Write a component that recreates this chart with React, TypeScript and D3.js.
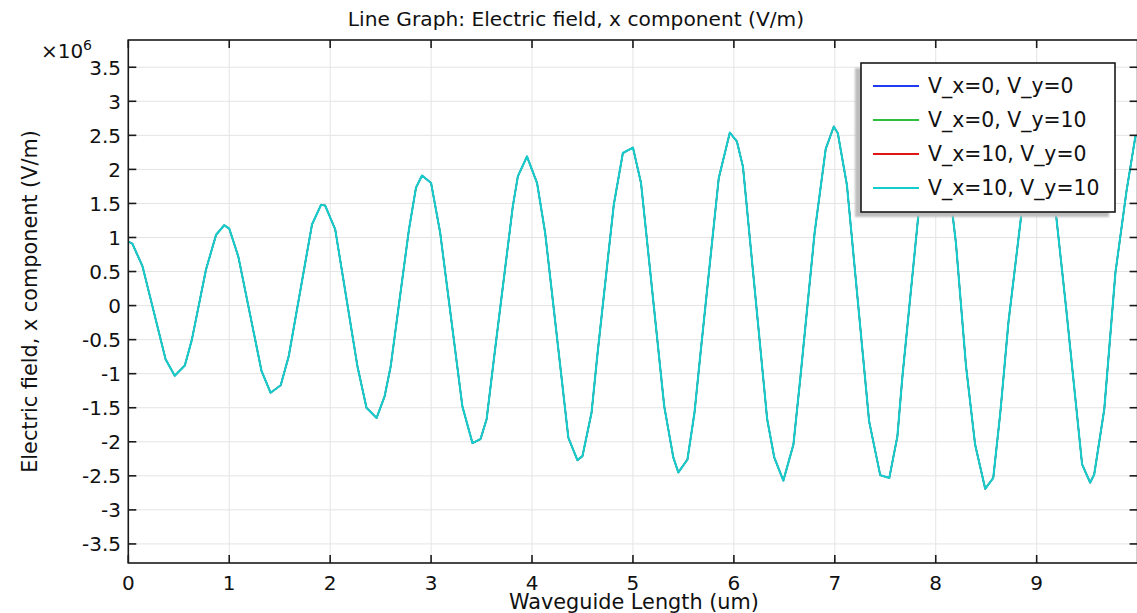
import React from "react";
import * as d3 from "d3";

// Position along the waveguide (um)
const positionUm = [
  0.0, 0.04, 0.14, 0.37, 0.46, 0.56, 0.63, 0.77, 0.87, 0.95, 1.0, 1.09, 1.32, 1.41, 1.51, 1.59,
  1.82, 1.91, 1.95, 2.05, 2.27, 2.36, 2.46, 2.54, 2.6, 2.78, 2.85, 2.91, 3.0, 3.09, 3.31, 3.41,
  3.49, 3.55, 3.63, 3.81, 3.86, 3.95, 4.05, 4.13, 4.36, 4.45, 4.5, 4.59, 4.65, 4.81, 4.9, 5.0,
  5.08, 5.31, 5.4, 5.45, 5.54, 5.61, 5.67, 5.85, 5.96, 6.03, 6.09, 6.33, 6.4, 6.49, 6.59, 6.66,
  6.8, 6.91, 6.99, 7.03, 7.12, 7.34, 7.45, 7.54, 7.62, 7.67, 7.83, 7.91, 7.98, 8.04, 8.11, 8.2,
  8.3, 8.39, 8.49, 8.57, 8.64, 8.72, 8.85, 8.93, 9.0, 9.06, 9.13, 9.19, 9.29, 9.45, 9.53, 9.57,
  9.67, 9.78, 9.89, 9.98,
];

// Electric field, x component (x10^6 V/m)
const fieldX = [
  0.94, 0.91, 0.58, -0.79, -1.03, -0.88, -0.5, 0.53, 1.04, 1.18, 1.13, 0.72, -0.96, -1.28, -1.17, -0.74,
  1.19, 1.48, 1.47, 1.12, -0.89, -1.5, -1.65, -1.33, -0.89, 1.11, 1.73, 1.91, 1.8, 1.07, -1.48, -2.02,
  -1.96, -1.67, -0.69, 1.46, 1.9, 2.19, 1.8, 1.07, -1.94, -2.27, -2.21, -1.57, -0.69, 1.48, 2.24, 2.32,
  1.8, -1.48, -2.23, -2.45, -2.26, -1.57, -0.69, 1.87, 2.54, 2.41, 2.04, -1.67, -2.23, -2.57, -2.04, -1.04,
  1.07, 2.3, 2.63, 2.53, 1.77, -1.7, -2.49, -2.53, -1.92, -1.04, 1.36, 2.35, 2.72, 2.62, 2.05, 0.92,
  -0.89, -2.04, -2.69, -2.53, -1.57, -0.25, 1.36, 2.3, 2.76, 2.68, 2.1, 1.36, -0.01, -2.33, -2.6, -2.48,
  -1.52, 0.48, 1.68, 2.5,
];

const seriesNames = ["V_x=0, V_y=0", "V_x=0, V_y=10", "V_x=10, V_y=0", "V_x=10, V_y=10"];
const seriesColors = ["#1f3cf2", "#2fbe3c", "#e01515", "#16cdcd"];
// All four bias cases give the same field profile
const seriesValues = [fieldX, fieldX, fieldX, fieldX];

const xTicks = [0, 1, 2, 3, 4, 5, 6, 7, 8, 9];
const yTicks = [-3.5, -3, -2.5, -2, -1.5, -1, -0.5, 0, 0.5, 1, 1.5, 2, 2.5, 3, 3.5];

const W = 1137;
const H = 613;
const left = 128.3;
const right = 1137.6;
const top = 40;
const bottom = 563;
const FONT = "'DejaVu Sans', sans-serif";

export default function App() {
  const x = d3.scaleLinear().domain([0, 10]).range([left, right]);
  const y = d3.scaleLinear().domain([-3.78, 3.9]).range([bottom, top]);

  const line = d3
    .line<number>()
    .x((_, i) => x(positionUm[i]))
    .y((v) => y(v));

  const tickLen = 8;
  const axisColor = "#1a1a1a";

  const legX = 861;
  const legY = 63;
  const legW = 254;
  const legH = 149;
  const rowY = [86, 120, 154, 188];

  return (
    <svg
      width={W}
      height={H}
      style={{ position: "absolute", left: 0, top: 0, background: "#fff" }}
      fontFamily={FONT}
    >
      <defs>
        <clipPath id="plotArea">
          <rect x={left} y={top} width={right - left} height={bottom - top} />
        </clipPath>
        <filter id="legShadow" x="-10%" y="-10%" width="120%" height="120%">
          <feGaussianBlur stdDeviation="1.2" />
        </filter>
      </defs>
      <rect width={W} height={H} fill="#fff" />

      {/* grid */}
      <g stroke="#e4e4e4" strokeWidth={1}>
        {xTicks.map((t) => (
          <line key={"gx" + t} x1={x(t)} x2={x(t)} y1={top} y2={bottom} />
        ))}
        {yTicks.map((t) => (
          <line key={"gy" + t} x1={left} x2={right} y1={y(t)} y2={y(t)} />
        ))}
      </g>

      {/* data: earlier series sit underneath the last one */}
      <g clipPath="url(#plotArea)" fill="none" strokeLinejoin="round">
        {seriesValues.map((vals, i) => (
          <path
            key={i}
            d={line(vals) || ""}
            stroke={seriesColors[i]}
            strokeWidth={i === seriesValues.length - 1 ? 2.1 : 1.4}
          />
        ))}
      </g>

      {/* frame and inward ticks */}
      <g stroke={axisColor} strokeWidth={1.6}>
        {xTicks.map((t) => (
          <g key={"tx" + t}>
            <line x1={x(t)} x2={x(t)} y1={bottom} y2={bottom - tickLen} />
            <line x1={x(t)} x2={x(t)} y1={top} y2={top + tickLen} />
          </g>
        ))}
        {yTicks.map((t) => (
          <g key={"ty" + t}>
            <line x1={left} x2={left + tickLen} y1={y(t)} y2={y(t)} />
            <line x1={right} x2={right - tickLen} y1={y(t)} y2={y(t)} />
          </g>
        ))}
        <rect x={left} y={top} width={right - left} height={bottom - top} fill="none" />
      </g>

      {/* tick labels */}
      <g fontSize={20} fill="#111">
        {xTicks.map((t) => (
          <text key={"lx" + t} x={x(t)} y={590} textAnchor="middle">
            {String(t)}
          </text>
        ))}
        {yTicks.map((t) => (
          <text key={"ly" + t} x={121} y={y(t) + 7.5} textAnchor="end">
            {String(t)}
          </text>
        ))}
      </g>

      {/* exponent */}
      <text x={41} y={58} fontSize={20} fill="#111">
        ×10
      </text>
      <text x={83} y={50} fontSize={14} fill="#111">
        6
      </text>

      {/* titles */}
      <text x={576} y={26} fontSize={20.2} textAnchor="middle" fill="#111">
        Line Graph: Electric field, x component (V/m)
      </text>
      <text x={(left + right) / 2 + 1} y={609} fontSize={20.8} textAnchor="middle" fill="#111">
        Waveguide Length (um)
      </text>
      <text
        transform={`translate(37,${(top + bottom) / 2}) rotate(-90)`}
        fontSize={20.8}
        textAnchor="middle"
        fill="#111"
      >
        Electric field, x component (V/m)
      </text>

      {/* legend */}
      <rect x={legX - 6} y={legY + 5} width={legW} height={legH} fill="#bdbdbd" filter="url(#legShadow)" />
      <rect x={legX} y={legY} width={legW} height={legH} fill="#fff" stroke={axisColor} strokeWidth={1.6} />
      {seriesNames.map((name, i) => (
        <g key={name}>
          <line x1={873} x2={919} y1={rowY[i]} y2={rowY[i]} stroke={seriesColors[i]} strokeWidth={2.2} />
          <text x={928} y={rowY[i] + 7} fontSize={20.4} fill="#111">
            {name}
          </text>
        </g>
      ))}
    </svg>
  );
}
